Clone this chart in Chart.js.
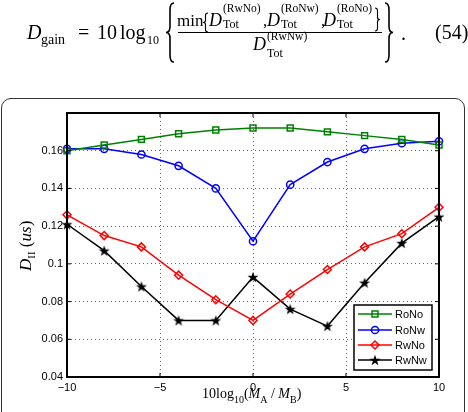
<!DOCTYPE html>
<html>
<head>
<meta charset="utf-8">
<script src="https://cdn.jsdelivr.net/npm/chart.js@4/dist/chart.umd.min.js"></script>
<style>
  html, body { margin: 0; padding: 0; background: #fff; }
  #wrap { position: relative; width: 468px; height: 412px; overflow: hidden; }
  #frame { position: absolute; left: 1px; top: 98px; width: 462px; height: 340px; border: 1px solid #333; border-radius: 10px; }
  #wrap canvas { position: absolute; left: 0; top: 0; }
</style>
</head>
<body>
<div id="wrap">
  <div id="frame"></div>
  <canvas id="chart" width="468" height="412"></canvas>
</div>
<script>
// x = 10log10(MA/MB)
const xVals = [-10, -8, -6, -4, -2, 0, 2, 4, 6, 8, 10];
const roNo = [0.160, 0.163, 0.166, 0.169, 0.171, 0.172, 0.172, 0.170, 0.168, 0.166, 0.163];
const roNw = [0.161, 0.161, 0.158, 0.152, 0.140, 0.112, 0.142, 0.154, 0.161, 0.164, 0.165];
const rwNo = [0.126, 0.115, 0.109, 0.094, 0.081, 0.070, 0.084, 0.097, 0.109, 0.116, 0.130];
const rwNw = [0.121, 0.107, 0.088, 0.070, 0.070, 0.093, 0.076, 0.067, 0.090, 0.111, 0.125];
const xTicks = [-10, -5, 0, 5, 10];
const yTicks = [0.04, 0.06, 0.08, 0.1, 0.12, 0.14, 0.16];

const SANS = "'Liberation Sans', Arial, sans-serif";
const SERIF = "'Liberation Serif', 'DejaVu Serif', serif";

// filled five-point star marker (matlab pentagram)
const starImg = (() => {
    const c = document.createElement('canvas');
    c.width = 12; c.height = 12;
    const g = c.getContext('2d');
    g.beginPath();
    for (let i = 0; i < 10; i++) {
        const r = i % 2 ? 2.3 : 5.8;
        const a = -Math.PI / 2 + i * Math.PI / 5;
        g.lineTo(6 + r * Math.cos(a), 6.5 + r * Math.sin(a));
    }
    g.closePath();
    g.fillStyle = '#000';
    g.fill();
    return c;
})();

function series(label, vals, color, style, radius) {
    return {
        label: label,
        data: xVals.map((x, i) => ({ x: x, y: vals[i] })),
        borderColor: color,
        backgroundColor: color,
        borderWidth: 1.5,
        pointStyle: style,
        pointRadius: radius,
        pointBorderWidth: 1.5,
        pointBorderColor: color,
        pointBackgroundColor: 'rgba(0,0,0,0)',
        tension: 0,
        fill: false,
        clip: false
    };
}

const datasets = [
    series('RoNo', roNo, '#008000', 'rect', 4.2),
    series('RoNw', roNw, '#0000ff', 'circle', 3.6),
    series('RwNo', rwNo, '#ff0000', 'rectRot', 4),
    series('RwNw', rwNw, '#000000', starImg, 5)
];

function txt(ctx, s, x, y, font) {
    ctx.font = font;
    ctx.fillText(s, x, y);
    return x + ctx.measureText(s).width;
}

// curly brace as a path, dir 1 = '{', -1 = '}'
function brace(ctx, x, y0, y1, w, dir, lw) {
    const h = y1 - y0, m = (y0 + y1) / 2;
    const tip = dir > 0 ? x : x + w;
    const body = x + w / 2;
    const end = dir > 0 ? x + w : x;
    ctx.save();
    ctx.lineWidth = lw;
    ctx.beginPath();
    ctx.moveTo(end, y0);
    ctx.quadraticCurveTo(body, y0, body, y0 + h * 0.12);
    ctx.lineTo(body, m - h * 0.1);
    ctx.quadraticCurveTo(body, m, tip, m);
    ctx.quadraticCurveTo(body, m, body, m + h * 0.1);
    ctx.lineTo(body, y1 - h * 0.12);
    ctx.quadraticCurveTo(body, y1, end, y1);
    ctx.stroke();
    ctx.restore();
}

function drawMarker(ctx, style, color, x, y, r) {
    ctx.save();
    ctx.strokeStyle = color;
    ctx.lineWidth = 1.5;
    ctx.beginPath();
    if (style === 'rect') {
        const s = r * Math.SQRT1_2;
        ctx.rect(x - s, y - s, 2 * s, 2 * s);
        ctx.stroke();
    } else if (style === 'circle') {
        ctx.arc(x, y, r, 0, Math.PI * 2);
        ctx.stroke();
    } else if (style === 'rectRot') {
        ctx.moveTo(x, y - r); ctx.lineTo(x + r, y); ctx.lineTo(x, y + r); ctx.lineTo(x - r, y);
        ctx.closePath();
        ctx.stroke();
    } else {
        ctx.drawImage(style, x - style.width / 2, y - style.height / 2);
    }
    ctx.restore();
}

const decor = {
    id: 'decor',
    afterDraw(chart) {
        const ctx = chart.ctx;
        const a = chart.chartArea;
        const xs = chart.scales.x, ys = chart.scales.y;
        ctx.save();
        ctx.fillStyle = '#000';
        ctx.strokeStyle = '#000';

        // inward ticks
        ctx.lineWidth = 1;
        ctx.beginPath();
        xTicks.forEach(v => {
            const px = xs.getPixelForValue(v);
            ctx.moveTo(px, a.bottom); ctx.lineTo(px, a.bottom - 4);
            ctx.moveTo(px, a.top); ctx.lineTo(px, a.top + 4);
        });
        yTicks.forEach(v => {
            const py = ys.getPixelForValue(v);
            ctx.moveTo(a.left, py); ctx.lineTo(a.left + 4, py);
            ctx.moveTo(a.right, py); ctx.lineTo(a.right - 4, py);
        });
        ctx.stroke();

        // axes box
        ctx.lineWidth = 2;
        ctx.strokeRect(a.left, a.top, a.right - a.left, a.bottom - a.top);

        // legend
        const lx0 = 354, ly0 = 305, lw = 78, lh = 65;
        ctx.fillStyle = '#fff';
        ctx.fillRect(lx0, ly0, lw, lh);
        ctx.lineWidth = 1.5;
        ctx.strokeRect(lx0, ly0, lw, lh);
        const rowY = [314, 330, 345, 360];
        ctx.textBaseline = 'middle';
        datasets.forEach((d, i) => {
            const y = rowY[i];
            ctx.strokeStyle = d.borderColor;
            ctx.lineWidth = 1.5;
            ctx.beginPath();
            ctx.moveTo(358, y); ctx.lineTo(392, y);
            ctx.stroke();
            drawMarker(ctx, d.pointStyle, d.borderColor, 375, y, d.pointRadius);
            ctx.fillStyle = '#000';
            txt(ctx, d.label, 395, y + 0.5, '11px ' + SANS);
        });
        ctx.textBaseline = 'alphabetic';
        ctx.fillStyle = '#000';
        ctx.strokeStyle = '#000';

        // x title: 10log10(MA / MB)
        let x = 202;
        x = txt(ctx, '10log', x, 398, '14px ' + SERIF);
        x = txt(ctx, '10', x, 403, '10px ' + SERIF);
        x = txt(ctx, '(', x, 398, '14px ' + SERIF);
        x = txt(ctx, 'M', x, 398, 'italic 14px ' + SERIF);
        x = txt(ctx, 'A', x, 403, '10px ' + SERIF);
        x = txt(ctx, ' / ', x, 398, '14px ' + SERIF);
        x = txt(ctx, 'M', x, 398, 'italic 14px ' + SERIF);
        x = txt(ctx, 'B', x, 403, '10px ' + SERIF);
        txt(ctx, ')', x, 398, '14px ' + SERIF);

        // y title: D_II (us)
        ctx.save();
        ctx.translate(31, 271);
        ctx.rotate(-Math.PI / 2);
        let t = 0;
        t = txt(ctx, 'D', t, 0, 'italic 17px ' + SERIF);
        t = txt(ctx, 'II', t, 4, '11px ' + SERIF);
        t = txt(ctx, ' (', t, 0, '17px ' + SERIF);
        t = txt(ctx, 'us', t, 0, 'italic 17px ' + SERIF);
        txt(ctx, ')', t, 0, '17px ' + SERIF);
        ctx.restore();

        // equation (54)
        txt(ctx, 'D', 27, 39, 'italic 20px ' + SERIF);
        txt(ctx, 'gain', 41, 44, '14px ' + SERIF);
        txt(ctx, '=', 78, 39, '20px ' + SERIF);
        txt(ctx, '10', 97, 39, '20px ' + SERIF);
        txt(ctx, 'log', 120, 39, '20px ' + SERIF);
        txt(ctx, '10', 147, 44, '12px ' + SERIF);
        brace(ctx, 166, 3, 62, 8, 1, 1.6);
        txt(ctx, 'min', 177, 26, '17px ' + SERIF);
        brace(ctx, 203, 13, 32, 5, 1, 1.1);
        const terms = [['(RwNo)', 209], ['(RoNw)', 267], ['(RoNo)', 323]];
        terms.forEach(([sup, dx], i) => {
            const ex = txt(ctx, 'D', dx, 26, 'italic 18px ' + SERIF);
            txt(ctx, sup, ex + 1, 12, '11.5px ' + SERIF);
            txt(ctx, 'Tot', ex + 1, 28, '12px ' + SERIF);
            if (i < 2) txt(ctx, ',', dx + 54, 26, '17px ' + SERIF);
        });
        brace(ctx, 375, 8, 31, 5, -1, 1.1);
        ctx.lineWidth = 1;
        ctx.beginPath();
        ctx.moveTo(178, 32.5); ctx.lineTo(382, 32.5);
        ctx.stroke();
        const dEnd = txt(ctx, 'D', 253, 50, 'italic 18px ' + SERIF);
        txt(ctx, '(RwNw)', dEnd + 1, 40, '11.5px ' + SERIF);
        txt(ctx, 'Tot', dEnd + 1, 57, '12px ' + SERIF);
        brace(ctx, 385, 3, 62, 8, -1, 1.6);
        txt(ctx, '.', 401, 40, '20px ' + SERIF);
        txt(ctx, '(54)', 435, 39, '20px ' + SERIF);
        ctx.restore();
    }
};

new Chart(document.getElementById('chart'), {
    type: 'line',
    data: { datasets: datasets },
    options: {
        responsive: false,
        animation: false,
        devicePixelRatio: 1,
        layout: { padding: { left: 0, top: 113, right: 29, bottom: 15 } },
        plugins: { legend: { display: false }, tooltip: { enabled: false } },
        scales: {
            x: {
                type: 'linear',
                min: -10,
                max: 10,
                afterFit: s => { s.height = 20; },
                ticks: {
                    stepSize: 5,
                    padding: 4,
                    maxRotation: 0,
                    color: '#000',
                    font: { family: SANS, size: 11 },
                    callback: v => (v < 0 ? '\u2212' + Math.abs(v) : String(v))
                },
                grid: { color: '#666', lineWidth: 1, drawTicks: false },
                border: { display: false, dash: [1, 3] }
            },
            y: {
                min: 0.04,
                max: 0.18,
                afterFit: s => { s.width = 67; },
                ticks: {
                    stepSize: 0.02,
                    padding: 4,
                    color: '#000',
                    font: { family: SANS, size: 11 },
                    callback: v => (v > 0.17 ? '' : String(Number(v.toFixed(2))))
                },
                grid: { color: '#666', lineWidth: 1, drawTicks: false },
                border: { display: false, dash: [1, 3] }
            }
        }
    },
    plugins: [decor]
});
</script>
</body>
</html>
